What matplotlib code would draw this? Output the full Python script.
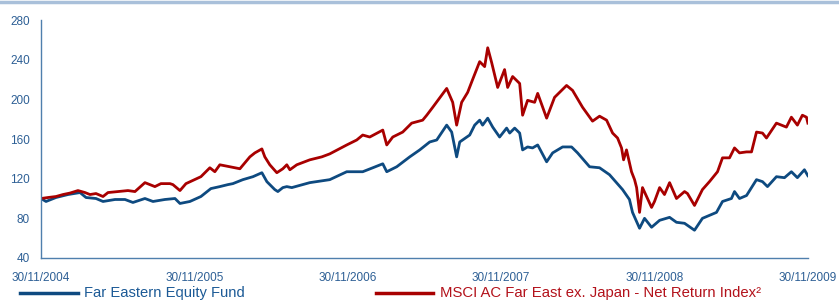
import numpy as np
import matplotlib
matplotlib.use("Agg")
import matplotlib.pyplot as plt
from matplotlib.lines import Line2D

plt.rcParams['font.family'] = ['Liberation Sans', 'DejaVu Sans']

# months since 30/11/2004, values rebased to 100
fund_months = [0, 0.39, 1.17, 2.11, 3.05, 3.52, 4.30, 4.85, 5.79, 6.57, 7.19, 8.13, 8.76, 9.69,
               10.48, 10.87, 11.65, 12.51, 13.29, 13.99, 14.62, 15.01, 15.79, 16.58, 17.28,
               17.67, 18.29, 18.53, 18.92, 19.23, 19.62, 21.03, 22.59, 23.92, 25.17, 25.96,
               26.74, 27.05, 27.83, 28.85, 29.63, 30.41, 30.96, 31.74, 32.13, 32.52, 32.76,
               33.54, 33.93, 34.32, 34.55, 34.95, 35.34, 35.88, 36.43, 36.67, 37.06, 37.45,
               37.68, 38.07, 38.46, 38.86, 39.56, 40.03, 40.81, 41.51, 41.98, 42.92, 43.70,
               44.48, 45.50, 46.04, 46.28, 46.83, 47.22, 47.77, 48.40, 49.18, 49.72, 50.35,
               51.13, 51.75, 52.30, 52.85, 53.32, 54.02, 54.26, 54.65, 55.20, 55.98, 56.45,
               56.84, 57.54, 58.17, 58.71, 59.18, 59.73, 60]
fund = [100, 97, 101, 104, 106, 101, 100, 97, 99, 99, 96, 100, 97, 99,
        100, 95, 97, 102, 110, 112, 114, 115, 119, 122, 126,
        117, 109, 107, 111, 112, 111, 116, 119, 127, 127, 131,
        135, 127, 132, 142, 149, 157, 159, 174, 167, 142, 157,
        164, 174, 179, 174, 181, 172, 162, 171, 166, 171, 166,
        149, 152, 151, 154, 137, 146, 152, 152, 146, 132, 131,
        124, 109, 99, 86, 70, 80, 71, 78, 81, 76, 75,
        68, 80, 83, 86, 97, 100, 107, 100, 103, 119, 117,
        112, 122, 121, 127, 121, 129, 123]

index_months = [0, 0.55, 1.17, 1.72, 2.27, 2.89, 3.44, 3.83, 4.30, 4.85, 5.24, 6.02, 6.80,
                7.35, 8.13, 8.91, 9.38, 10.09, 10.32, 10.87, 11.34, 12.51, 13.21, 13.60,
                13.99, 14.78, 15.56, 16.34, 16.73, 17.28, 17.51, 17.90, 18.45, 18.92, 19.23,
                19.47, 20.01, 21.03, 21.97, 22.59, 23.92, 24.70, 25.17, 25.72, 26.74, 27.05,
                27.52, 28.30, 29.00, 29.86, 30.18, 30.65, 31.74, 32.21, 32.52, 32.91, 33.38,
                33.77, 34.32, 34.71, 34.95, 35.26, 35.73, 36.27, 36.51, 36.90, 37.45, 37.68,
                38.07, 38.62, 38.86, 39.56, 40.18, 41.12, 41.59, 42.37, 43.15, 43.70, 44.25,
                44.72, 45.11, 45.42, 45.58, 45.81, 46.20, 46.44, 46.60, 46.83, 47.06, 47.38,
                47.77, 48.00, 48.40, 48.78, 49.18, 49.72, 50.35, 50.58, 51.13, 51.75, 52.30,
                52.93, 53.32, 53.87, 54.26, 54.65, 55.20, 55.59, 55.98, 56.45, 56.76, 57.54,
                58.32, 58.71, 59.18, 59.57, 59.89, 60]
index = [100, 101, 102, 104, 105.5, 108, 106, 104, 105, 102, 106, 107, 108,
         107, 116, 112, 115, 115, 114, 108, 115, 122, 131, 127,
         134, 132, 130, 142, 146, 150, 142, 134, 126, 130, 134,
         129, 134, 139, 142, 145, 154, 159, 164, 162, 169, 154,
         162, 167, 176, 179, 184, 192, 211, 197, 174, 197, 207,
         220, 238, 233, 252, 237, 212, 230, 212, 223, 216, 184,
         199, 197, 206, 181, 202, 214, 209, 192, 178, 183, 179,
         166, 161, 151, 139, 149, 127, 119, 111, 86, 111, 102,
         91, 97, 111, 104, 116, 100, 107, 105, 93, 109, 117,
         127, 141, 141, 151, 146, 147, 147, 167, 166, 161, 176,
         172, 182, 174, 184, 182, 176]

tick_months = [0, 12, 24, 36, 48, 60]
tick_labels = ['30/11/2004', '30/11/2005', '30/11/2006', '30/11/2007', '30/11/2008', '30/11/2009']
y_ticks = [40, 80, 120, 160, 200, 240, 280]

blue = '#0e4a80'
red = '#a80000'
label_col = '#2d5f95'
axis_col = '#4f7fad'

fig = plt.figure(figsize=(8.39, 3.0), dpi=100)
ax = fig.add_axes([0.0489, 0.14, 0.914, 0.7933])

ax.plot(fund_months, fund, color=blue, lw=2.0, solid_joinstyle='round')
ax.plot(index_months, index, color=red, lw=2.0, solid_joinstyle='round')

ax.set_xlim(0, 60)
ax.set_ylim(40, 280)
ax.set_yticks(y_ticks)
ax.set_xticks(tick_months)
ax.set_xticklabels(tick_labels)
ax.tick_params(axis='both', length=0, labelsize=8.5, labelcolor=label_col)
ax.tick_params(axis='y', pad=8)
ax.tick_params(axis='x', pad=10)
for s in ['top', 'right']:
    ax.spines[s].set_visible(False)
for s in ['left', 'bottom']:
    ax.spines[s].set_color(axis_col)
    ax.spines[s].set_linewidth(1.0)

# light top rule
fig.add_artist(Line2D([0, 1], [0.995, 0.995], transform=fig.transFigure, color='#a9c0da', lw=2.5))

# legend drawn by hand
ly = 1 - 293 / 300
fig.add_artist(Line2D([20 / 839, 78 / 839], [ly, ly], transform=fig.transFigure, color=blue, lw=2.5))
fig.text(84 / 839, ly, 'Far Eastern Equity Fund', color='#1c5a96', fontsize=10.6, va='center')
fig.add_artist(Line2D([376 / 839, 433 / 839], [ly, ly], transform=fig.transFigure, color=red, lw=2.5))
fig.text(440 / 839, ly, 'MSCI AC Far East ex. Japan - Net Return Index²', color='#b3121b',
         fontsize=10.7, va='center')

fig.savefig('out.png', dpi=100)
